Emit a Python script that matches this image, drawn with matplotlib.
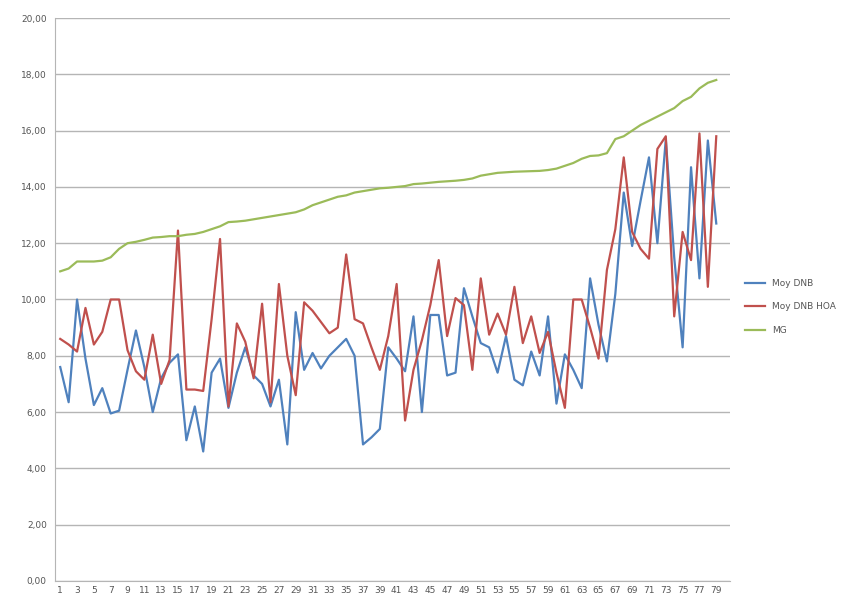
import matplotlib.pyplot as plt
import numpy as np

# categories 1..79
cats = np.arange(1, 80)

moy_dnb = [7.6, 6.35, 10.0, 7.9, 6.25, 6.85, 5.95, 6.05, 7.5, 8.9,
           7.6, 6.0, 7.2, 7.75, 8.05, 5.0, 6.2, 4.6, 7.4, 7.9,
           6.15, 7.4, 8.3, 7.3, 7.0, 6.2, 7.15, 4.85, 9.55, 7.5,
           8.1, 7.55, 8.0, 8.3, 8.6, 8.0, 4.85, 5.1, 5.4, 8.3,
           7.9, 7.45, 9.4, 6.0, 9.45, 9.45, 7.3, 7.4, 10.4, 9.4,
           8.45, 8.3, 7.4, 8.7, 7.15, 6.95, 8.15, 7.3, 9.4, 6.3,
           8.05, 7.5, 6.85, 10.75, 9.1, 7.8, 10.2, 13.8, 11.9, 13.5,
           15.05, 12.0, 15.7, 11.5, 8.3, 14.7, 10.75, 15.65, 12.7]

moy_dnb_hoa = [8.6, 8.4, 8.15, 9.7, 8.4, 8.85, 10.0, 10.0, 8.2, 7.45,
               7.15, 8.75, 7.0, 7.85, 12.45, 6.8, 6.8, 6.75, 9.3, 12.15,
               6.2, 9.15, 8.5, 7.2, 9.85, 6.35, 10.55, 8.0, 6.6, 9.9,
               9.6, 9.2, 8.8, 9.0, 11.6, 9.3, 9.15, 8.3, 7.5, 8.7,
               10.55, 5.7, 7.5, 8.55, 9.8, 11.4, 8.7, 10.05, 9.8, 7.5,
               10.75, 8.75, 9.5, 8.75, 10.45, 8.45, 9.4, 8.1, 8.85, 7.4,
               6.15, 10.0, 10.0, 9.0, 7.9, 11.05, 12.5, 15.05, 12.4, 11.8,
               11.45, 15.35, 15.8, 9.4, 12.4, 11.4, 15.9, 10.45, 15.8]

mg = [11.0, 11.1, 11.35, 11.35, 11.35, 11.38, 11.5, 11.8, 12.0, 12.05,
      12.12, 12.2, 12.22, 12.25, 12.25, 12.3, 12.33, 12.4, 12.5, 12.6,
      12.75, 12.77, 12.8, 12.85, 12.9, 12.95, 13.0, 13.05, 13.1, 13.2,
      13.35, 13.45, 13.55, 13.65, 13.7, 13.8, 13.85, 13.9, 13.95, 13.97,
      14.0, 14.03, 14.1, 14.12, 14.15, 14.18, 14.2, 14.22, 14.25, 14.3,
      14.4, 14.45, 14.5, 14.52, 14.54, 14.55, 14.56, 14.57, 14.6, 14.65,
      14.75, 14.85, 15.0, 15.1, 15.12, 15.2, 15.7, 15.8, 16.0, 16.2,
      16.35, 16.5, 16.65, 16.8, 17.05, 17.2, 17.5, 17.7, 17.8]

series = [("Moy DNB", moy_dnb, "#4f81bd"),
          ("Moy DNB HOA", moy_dnb_hoa, "#c0504d"),
          ("MG", mg, "#9bbb59")]

fig = plt.figure(figsize=(8.49, 6.02), dpi=100)
ax = fig.add_axes([0.065, 0.035, 0.795, 0.935])

for name, vals, col in series:
    ax.plot(cats, vals, color=col, lw=1.6, label=name)

ax.set_ylim(0, 20)
ax.set_yticks(np.arange(0, 21, 2))
ax.set_yticklabels([f"{v:.2f}".replace(".", ",") for v in range(0, 21, 2)])
ax.set_xlim(0.4, 80.65)
ax.set_xticks(cats[::2])
ax.set_xticklabels([str(c) for c in cats[::2]])

ax.grid(axis="y", color="#b5b5b5", lw=1)
ax.set_axisbelow(True)
for s in ["top", "right"]:
    ax.spines[s].set_visible(False)
for s in ["left", "bottom"]:
    ax.spines[s].set_color("#b5b5b5")
ax.tick_params(axis="both", length=0, labelsize=6.5, colors="#555555")
ax.tick_params(axis="y", pad=6)
ax.tick_params(axis="x", pad=4)

leg = ax.legend(loc="center left", bbox_to_anchor=(1.01, 0.487), frameon=False,
                fontsize=6.5, handlelength=2.2, labelspacing=1.6,
                labelcolor="#555555")

fig.savefig("out.png", dpi=100)
